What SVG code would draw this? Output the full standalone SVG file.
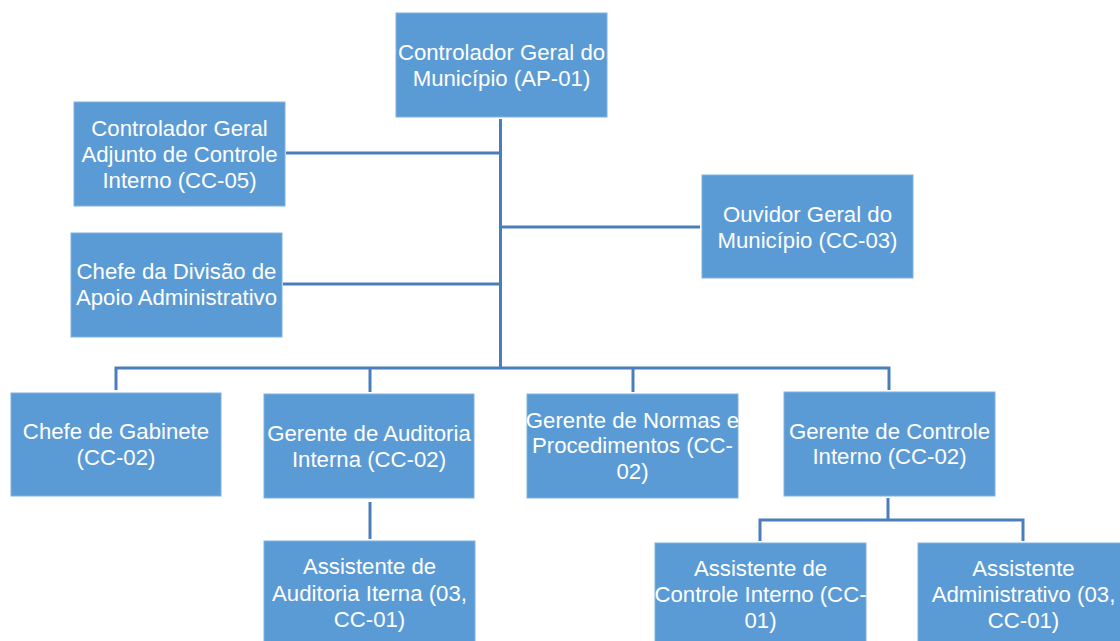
<svg xmlns="http://www.w3.org/2000/svg" width="1120" height="641" viewBox="0 0 1120 641">
<style>
.box{fill:#5B9BD5;stroke:#7FB1E0;stroke-width:1}
.t{fill:#FFFFFF;font-family:"Liberation Sans",Arial,sans-serif;font-size:22.2px;text-anchor:middle}
.c{fill:none;stroke:#4A7EBB;stroke-width:3}
</style>
<rect width="1120" height="641" fill="#FFFFFF"/>
<g id="connectors">
<path class="c" d="M500.5 119 V369"/>
<path class="c" d="M286 153 H500.5"/>
<path class="c" d="M283 284 H500.5"/>
<path class="c" d="M500.5 227 H700"/>
<path class="c" d="M116 390 V368 H889 V390"/>
<path class="c" d="M370 368 V392"/>
<path class="c" d="M633 368 V392"/>
<path class="c" d="M370 502 V539"/>
<path class="c" d="M888 498 V520"/>
<path class="c" d="M760 541 V520 H1023 V541"/>
</g>
<g id="n_controlador">
<rect class="box" x="396" y="13" width="211" height="104"/>
<text class="t" x="501.5" y="59.5">Controlador Geral do</text>
<text class="t" x="501.5" y="85.5">Município (AP-01)</text>
</g>
<g id="n_adjunto">
<rect class="box" x="74" y="102" width="211" height="104"/>
<text class="t" x="179.5" y="135.5">Controlador Geral</text>
<text class="t" x="179.5" y="161.5">Adjunto de Controle</text>
<text class="t" x="179.5" y="187.5">Interno (CC-05)</text>
</g>
<g id="n_divisao">
<rect class="box" x="71" y="233" width="211" height="104"/>
<text class="t" x="176.5" y="278.5">Chefe da Divisão de</text>
<text class="t" x="176.5" y="304.5">Apoio Administrativo</text>
</g>
<g id="n_ouvidor">
<rect class="box" x="702" y="175" width="211" height="103"/>
<text class="t" x="807.5" y="221.5">Ouvidor Geral do</text>
<text class="t" x="807.5" y="247.5">Município (CC-03)</text>
</g>
<g id="n_gabinete">
<rect class="box" x="11" y="393" width="210" height="103"/>
<text class="t" x="116" y="439">Chefe de Gabinete</text>
<text class="t" x="116" y="465">(CC-02)</text>
</g>
<g id="n_auditoria">
<rect class="box" x="264" y="394" width="210" height="104"/>
<text class="t" x="369" y="440.5">Gerente de Auditoria</text>
<text class="t" x="369" y="466.5">Interna (CC-02)</text>
</g>
<g id="n_normas">
<rect class="box" x="527" y="394" width="211" height="104"/>
<text class="t" x="632.5" y="427.5">Gerente de Normas e</text>
<text class="t" x="632.5" y="453">Procedimentos (CC-</text>
<text class="t" x="632.5" y="478.5">02)</text>
</g>
<g id="n_controle">
<rect class="box" x="784" y="392" width="211" height="104"/>
<text class="t" x="889.5" y="438.5">Gerente de Controle</text>
<text class="t" x="889.5" y="464">Interno (CC-02)</text>
</g>
<g id="n_assist_auditoria">
<rect class="box" x="264" y="541" width="211" height="104"/>
<text class="t" x="369.5" y="574">Assistente de</text>
<text class="t" x="369.5" y="600.5">Auditoria Iterna (03,</text>
<text class="t" x="369.5" y="626.5">CC-01)</text>
</g>
<g id="n_assist_controle">
<rect class="box" x="655" y="543" width="211" height="104"/>
<text class="t" x="760.5" y="575.5">Assistente de</text>
<text class="t" x="760.5" y="601.5">Controle Interno (CC-</text>
<text class="t" x="760.5" y="627.5">01)</text>
</g>
<g id="n_assist_admin">
<rect class="box" x="918" y="543" width="211" height="104"/>
<text class="t" x="1023.5" y="575.5">Assistente</text>
<text class="t" x="1023.5" y="601.5">Administrativo (03,</text>
<text class="t" x="1023.5" y="627.5">CC-01)</text>
</g>
</svg>
